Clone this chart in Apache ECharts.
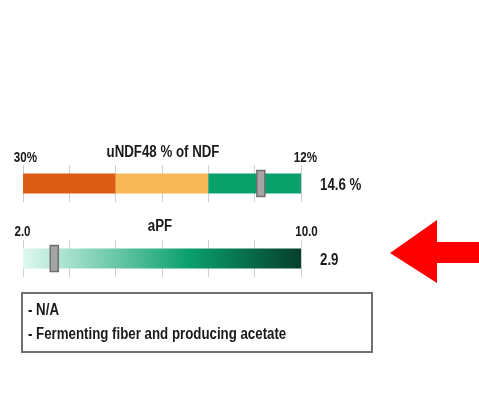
<!DOCTYPE html>
<html><head><meta charset="utf-8">
<script src="https://cdn.jsdelivr.net/npm/echarts@6/dist/echarts.min.js"></script>
<style>html,body{margin:0;padding:0;background:#fff}#c{width:479px;height:393px}</style>
</head><body><div id="c"></div>
<script>
// ---- data ----
var gauge1Title = 'uNDF48 % of NDF';
var gauge1Min = 12, gauge1Max = 30, gauge1Interval = 3;
var gauge1TickLabels = ['30%', '12%'];
var gauge1SegStart = [30, 24, 18];
var gauge1SegEnd = [24, 18, 12];
var gauge1SegColors = ['#dd5c16', '#f6b955', '#0aa06c'];
var gauge1Value = 14.6;
var gauge1ValueText = '14.6 %';

var gauge2Title = 'aPF';
var gauge2Min = 2, gauge2Max = 10;
var gauge2TickLabels = ['2.0', '10.0'];
var gauge2Value = 2.9;
var gauge2ValueText = '2.9';

var noteLines = ['- N/A', '- Fermenting fiber and producing acetate'];

var FONT = "'Liberation Sans', Arial, sans-serif";
var SX = 0.83;
var DY = 1.5;
var chart = echarts.init(document.getElementById('c'), null, {renderer: 'canvas'});

function rectItem(params, api) {
  var x0 = api.coord([api.value(0), 0])[0];
  var x1 = api.coord([api.value(1), 0])[0];
  var cy = api.coord([api.value(0), 0])[1];
  var left = Math.min(x0, x1), w = Math.abs(x1 - x0);
  var h = 20;
  return {type: 'rect', shape: {x: left, y: cy - h / 2, width: w, height: h},
    style: {fill: gauge1SegColors[params.dataIndex]}};
}
function gradItem(params, api) {
  var x0 = api.coord([api.value(0), 0])[0];
  var x1 = api.coord([api.value(1), 0])[0];
  var cy = api.coord([api.value(0), 0])[1];
  var h = 20;
  return {type: 'rect', shape: {x: x0, y: cy - h / 2, width: x1 - x0, height: h},
    style: {fill: new echarts.graphic.LinearGradient(0, 0, 1, 0, [
      {offset: 0, color: '#e0f9f0'},
      {offset: 0.6, color: '#0a9f6d'},
      {offset: 1, color: '#063f2d'}])}};
}
function markerItem(params, api) {
  var p = api.coord([api.value(0), 0]);
  var w = 8, h = 26;
  return {type: 'rect', shape: {x: p[0] - w / 2, y: p[1] - h / 2, width: w, height: h},
    style: {fill: '#a5a5a5', stroke: '#6f6f6f', lineWidth: 1.5}};
}

chart.setOption({
  animation: false,
  grid: [
    {left: 23, width: 278, top: 165, height: 37},
    {left: 23, width: 278, top: 240, height: 37}
  ],
  xAxis: [
    {gridIndex: 0, type: 'value', min: gauge1Min, max: gauge1Max, interval: gauge1Interval, inverse: true,
      axisLine: {show: false}, axisTick: {show: false}, axisLabel: {show: false},
      splitLine: {show: true, lineStyle: {color: '#cfcfcf', width: 1}}},
    {gridIndex: 1, type: 'value', min: 0, max: 6, interval: 1,
      axisLine: {show: false}, axisTick: {show: false}, axisLabel: {show: false},
      splitLine: {show: true, lineStyle: {color: '#cfcfcf', width: 1}}},
    {gridIndex: 1, type: 'value', min: gauge2Min, max: gauge2Max, interval: 2,
      axisLine: {show: false}, axisTick: {show: false}, splitLine: {show: false},
      axisLabel: {show: false}}
  ],
  yAxis: [
    {gridIndex: 0, type: 'value', min: -1, max: 1, show: false},
    {gridIndex: 1, type: 'value', min: -1, max: 1, show: false}
  ],
  series: [
    {type: 'custom', xAxisIndex: 0, yAxisIndex: 0, renderItem: rectItem,
      data: gauge1SegStart.map(function (s, i) { return [s, gauge1SegEnd[i]]; })},
    {type: 'custom', xAxisIndex: 0, yAxisIndex: 0, renderItem: markerItem, z: 5,
      data: [[gauge1Value]]},
    {type: 'custom', xAxisIndex: 2, yAxisIndex: 1, renderItem: gradItem,
      data: [[gauge2Min, gauge2Max]]},
    {type: 'custom', xAxisIndex: 2, yAxisIndex: 1, renderItem: markerItem, z: 5,
      data: [[gauge2Value]]}
  ]
});

function txt(s, x, y, size, align) {
  return {type: 'text', x: x, y: y + DY, scaleX: SX, z: 10,
    style: {text: s, x: 0, y: 0, font: 'bold ' + size + 'px ' + FONT, fill: '#1a1a1a',
      align: align || 'left', verticalAlign: 'middle'}};
}
var g1L = chart.convertToPixel({xAxisIndex: 0}, gauge1Max);
var g1R = chart.convertToPixel({xAxisIndex: 0}, gauge1Min);
var g2L = chart.convertToPixel({xAxisIndex: 2}, gauge2Min);
var g2R = chart.convertToPixel({xAxisIndex: 2}, gauge2Max);

chart.setOption({
  graphic: [
    txt(gauge1Title, (g1L + g1R) / 2 + 1, 151, 16, 'center'),
    txt(gauge1TickLabels[0], g1L + 2.5, 156.5, 14, 'center'),
    txt(gauge1TickLabels[1], g1R + 4.5, 156.5, 14, 'center'),
    txt(gauge2Title, (g2L + g2R) / 2 - 2, 225, 16, 'center'),
    txt(gauge2TickLabels[0], g2L - 0.5, 231, 14, 'center'),
    txt(gauge2TickLabels[1], g2R + 5.5, 231, 14, 'center'),
    txt(gauge1ValueText, 320, 184, 16, 'left'),
    txt(gauge2ValueText, 320, 259, 16, 'left'),
    {type: 'rect', shape: {x: 22, y: 293, width: 350, height: 59},
      style: {fill: '#fff', stroke: '#707070', lineWidth: 2}},
    txt(noteLines[0], 28, 309, 16, 'left'),
    txt(noteLines[1], 28, 333, 16, 'left'),
    {type: 'polygon', shape: {points: [[390, 253], [437, 220], [437, 242], [479, 242], [479, 263], [437, 263], [437, 283]]},
      style: {fill: '#ff0000'}}
  ]
});
</script></body></html>
